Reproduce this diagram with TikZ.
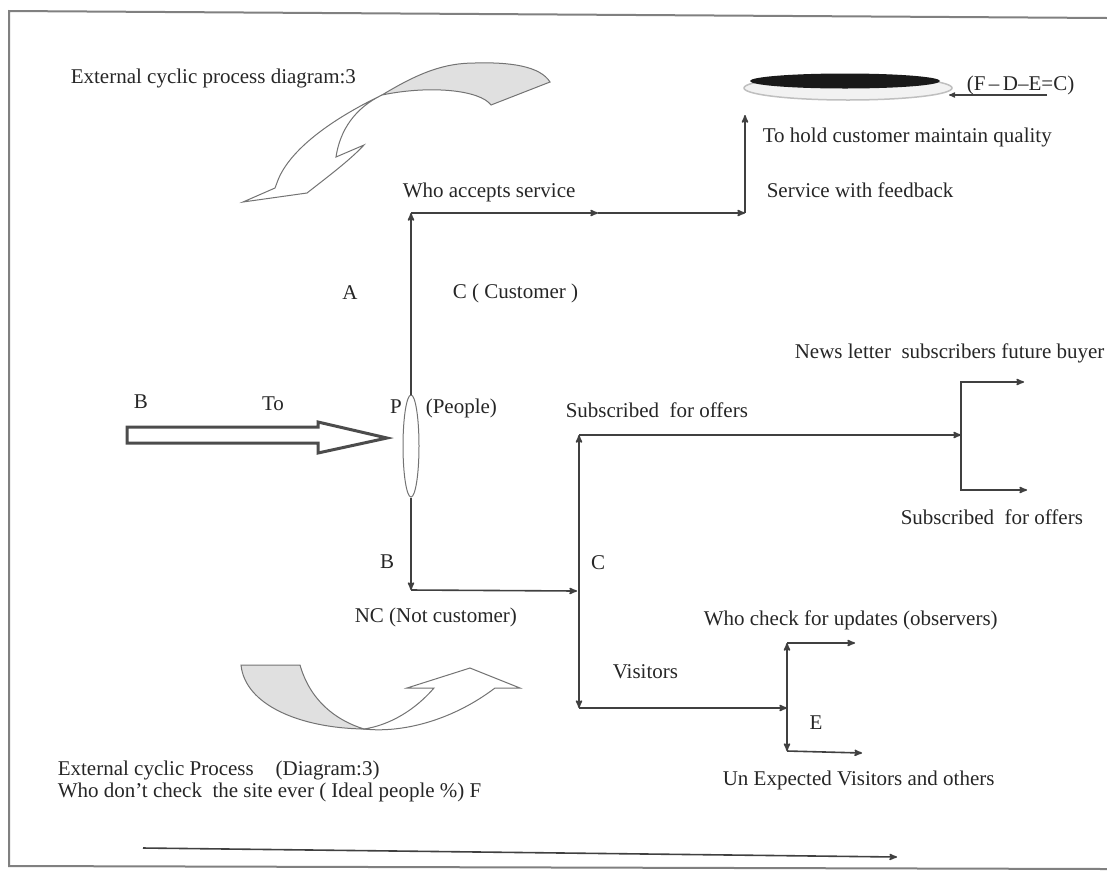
\documentclass[tikz,border=0pt]{standalone}
\usepackage{fontspec}
\setmainfont{Liberation Serif}
\usepackage{tikz}
\usetikzlibrary{arrows,shapes}
\tikzstyle{lbl} = [anchor=west, inner sep=0pt, text=black!85,
    font=\fontsize{21}{25}\selectfont]
\tikzstyle{letter} = [lbl, anchor=center]
\tikzstyle{swirl} = [-, draw=black!55, line width=1pt, fill=white]

\begin{document}
\begin{tikzpicture}[->,>=stealth',line width=1.6pt,draw=black!75,x=1pt,y=-1pt]
  \useasboundingbox (0,0) rectangle (1107,871);

  % frame
  \draw[-,black!50,line width=2pt] (1107,18) -- (9,11) -- (9,866) -- (1107,869);

  % curved arrow, top
  \draw[swirl,fill=black!12] (382,95) .. controls (420,72) and (445,63) .. (475,63)
      .. controls (510,62) and (540,66) .. (550,82) -- (491,105)
      .. controls (480,90) and (430,85) .. (382,95) -- cycle;
  \draw[swirl] (382,95) .. controls (330,120) and (290,150) .. (278,180) -- (275,188)
      -- (243,202) -- (307,193) .. controls (330,175) and (350,160) .. (364,145)
      -- (336,157) .. controls (340,130) and (355,108) .. (382,95) -- cycle;

  % curved arrow, bottom
  \draw[swirl,fill=black!12] (241,665) -- (300,665)
      .. controls (310,700) and (335,720) .. (364,729)
      .. controls (300,728) and (245,705) .. (241,665) -- cycle;
  \draw[swirl] (364,729) .. controls (400,733) and (450,722) .. (495,688)
      -- (520,688) -- (470,668) -- (407,688) -- (434,688)
      .. controls (415,710) and (390,725) .. (364,729) -- cycle;

  % block arrow into P
  \draw[-,black!70,line width=3pt,fill=white] (127,427) -- (318,427) -- (318,422)
      -- (387,438) -- (318,453) -- (318,443) -- (127,443) -- cycle;

  % discs
  \node[ellipse, draw=black!25, fill=black!5, line width=1.5pt, inner sep=0pt,
        minimum width=208pt, minimum height=24pt] (rim) at (848,88) {};
  \node[ellipse, fill=black!90, inner sep=0pt,
        minimum width=190pt, minimum height=15pt] (disc) at (845,81) {};

  \node[ellipse, draw=black!55, line width=1pt, inner sep=0pt,
        minimum width=16pt, minimum height=102pt] (p) at (411,446) {};

  \coordinate (a1) at (411,213);
  \coordinate (a2) at (598,213);
  \coordinate (a3) at (745,213);
  \coordinate (a4) at (745,115);
  \coordinate (b1) at (411,590);
  \coordinate (b2) at (577,591);
  \coordinate (c0) at (579,591);
  \coordinate (c1) at (579,435);
  \coordinate (c2) at (579,708);
  \coordinate (s1) at (961,435);
  \coordinate (s3) at (1024,382);
  \coordinate (s5) at (1027,490);
  \coordinate (v1) at (787,708);
  \coordinate (v2) at (787,643);
  \coordinate (v3) at (855,643);
  \coordinate (v4) at (787,751);
  \coordinate (v5) at (862,753);
  \coordinate (f1) at (1047,95);
  \coordinate (f2) at (949,95);
  \coordinate (z1) at (143,848);
  \coordinate (z2) at (897,857);

  % labels
  \node[lbl] (ext1) at (70,78) {External cyclic process diagram:3};
  \node[lbl] (fde) at (966,85) {(F\,--\,D--E=C)};
  \node[lbl] (hold) at (762,137) {To hold customer maintain quality};
  \node[lbl] (fb) at (766,190) {Service with feedback};
  \node[lbl] (acc) at (402,192) {Who accepts service};
  \node[letter] (la) at (350,293) {A};
  \node[lbl] (cust) at (452,293) {C ( Customer )};
  \node[lbl] (news) at (794,353) {News letter\ \ subscribers future buyer};
  \node[letter] (lb) at (141,402) {B};
  \node[letter] (lto) at (273,404) {To};
  \node[letter] (lp) at (396,407) {P};
  \node[lbl] (ppl) at (425,408) {(People)};
  \node[lbl] (sub1) at (565,410) {Subscribed\ \ for offers};
  \node[lbl] (sub2) at (900,517) {Subscribed\ \ for offers};
  \node[letter] (lb2) at (387,562) {B};
  \node[letter] (lc) at (598,563) {C};
  \node[lbl] (nc) at (354,617) {NC (Not customer)};
  \node[lbl] (obs) at (703,620) {Who check for updates (observers)};
  \node[lbl] (vis) at (612,672) {Visitors};
  \node[letter] (le) at (816,723) {E};
  \node[lbl] (unexp) at (722,780) {Un Expected Visitors and others};
  \node[lbl] (ext2) at (57,770) {External cyclic Process\hspace*{22pt}(Diagram:3)};
  \node[lbl] (who) at (57,792) {Who don't check\ \ the site ever ( Ideal people \%) F};

  % customer branch
  \draw (p.north) -- (a1);
  \draw (a1) -- (a2);
  \draw (a2) -- (a3);
  \draw (a3) -- (a4);
  \draw[line width=1.2pt] (f1) -- (f2);

  % not customer branch
  \draw (p.south) -- (b1);
  \draw (b1) -- (b2);
  \draw (c0) -- (c1);
  \draw (c0) -- (c2);
  \draw (c1) -- (s1);
  \draw (s1) |- (s3);
  \draw (s1) |- (s5);
  \draw (c2) -- (v1);
  \draw (v1) -- (v2);
  \draw (v2) -- (v3);
  \draw (v1) -- (v4);
  \draw (v4) -- (v5);

  \draw (z1) -- (z2);
\end{tikzpicture}
\end{document}
